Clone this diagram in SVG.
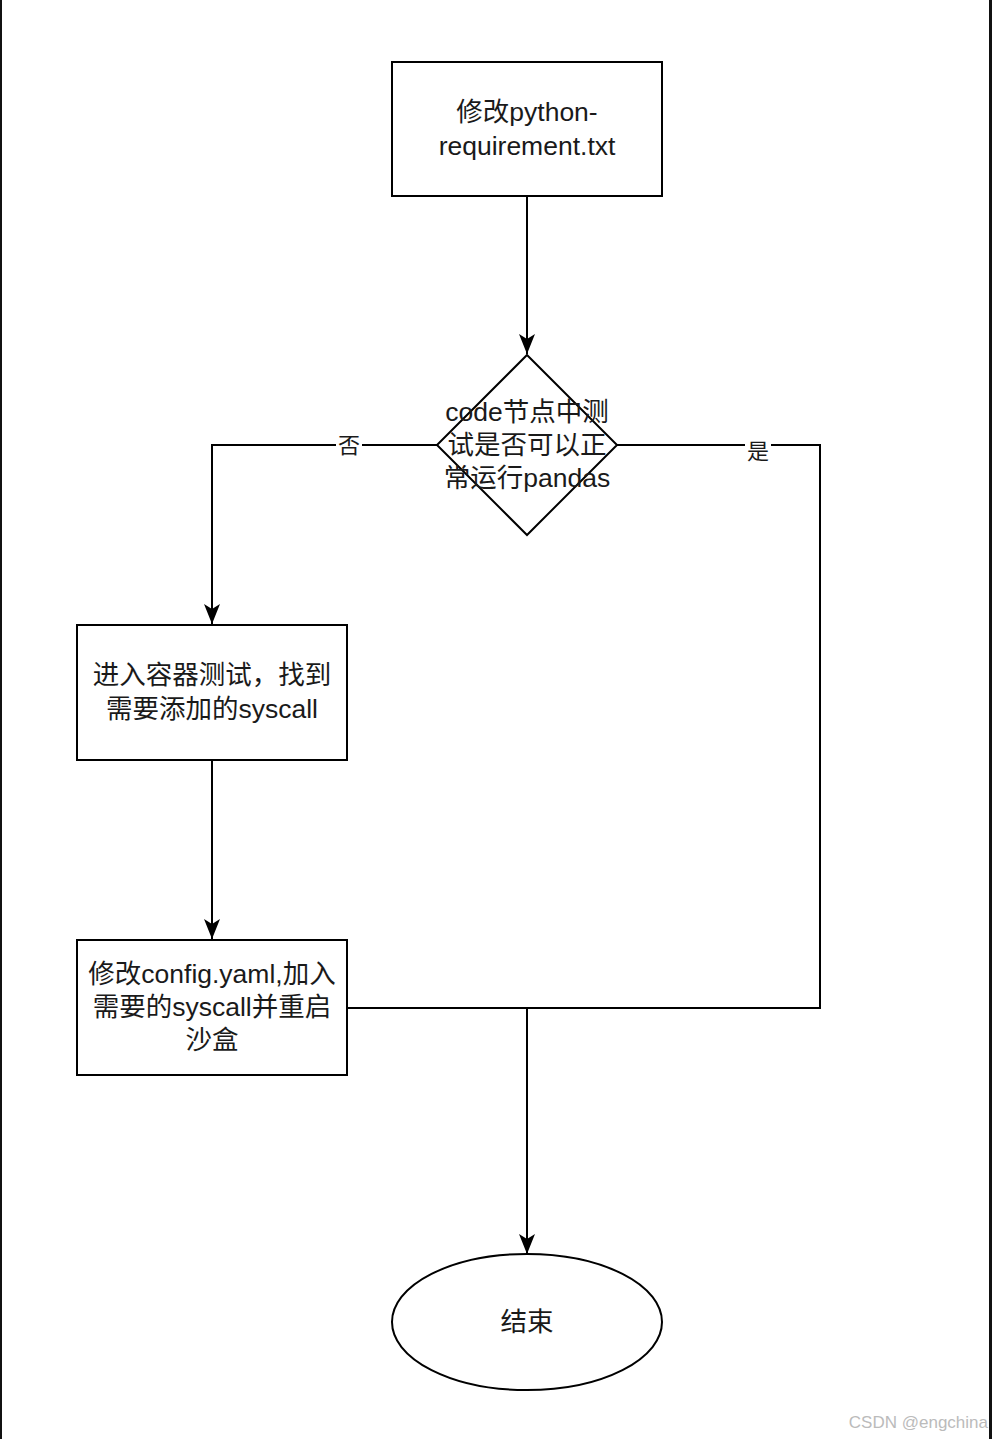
<svg xmlns="http://www.w3.org/2000/svg" width="992" height="1439" viewBox="0 0 992 1439">
<style>
.n{fill:#fff;stroke:#000;stroke-width:2}
.t{font-family:"Liberation Sans","Noto Sans CJK SC",sans-serif;font-size:26.5px;fill:#1a1a1a;text-anchor:middle}
.e{fill:none;stroke:#000;stroke-width:2}
.l{font-family:"Liberation Sans","Noto Sans CJK SC",sans-serif;font-size:22px;fill:#1a1a1a;text-anchor:middle}
</style>
<defs>
<marker id="a" viewBox="0 0 20 20" refX="20" refY="10" markerWidth="20" markerHeight="20" markerUnits="userSpaceOnUse" orient="auto">
<path d="M0,2 L20,10 L0,18 L5,10 Z" fill="#000"/>
</marker>
</defs>
<rect width="992" height="1439" fill="#fff"/>
<line x1="1" y1="0" x2="1" y2="1439" stroke="#111" stroke-width="2"/>
<line x1="990.5" y1="0" x2="990.5" y2="1439" stroke="#111" stroke-width="3"/>
<g id="connectors">
<path class="e" d="M527,197 V354" marker-end="url(#a)"/>
<path class="e" d="M437,445 H212 V624" marker-end="url(#a)"/>
<path class="e" d="M617,445 H820 V1008 H527"/>
<path class="e" d="M212,761 V939" marker-end="url(#a)"/>
<path class="e" d="M347,1008 H527 V1254" marker-end="url(#a)"/>
<rect x="336" y="432" width="26" height="26" fill="#fff"/>
<text class="l" x="349" y="453">否</text>
<rect x="745" y="438" width="26" height="26" fill="#fff"/>
<text class="l" x="758" y="459">是</text>
</g>
<g id="start">
<rect class="n" x="392" y="62" width="270" height="134"/>
<text class="t" x="527" y="121">修改python-</text>
<text class="t" x="527" y="155">requirement.txt</text>
</g>
<g id="decision">
<path class="n" d="M527,355 L617,445 L527,535 L437,445 Z"/>
<text class="t" x="527" y="421">code节点中测</text>
<text class="t" x="527" y="454">试是否可以正</text>
<text class="t" x="527" y="487">常运行pandas</text>
</g>
<g id="find">
<rect class="n" x="77" y="625" width="270" height="135"/>
<text class="t" x="212" y="684">进入容器测试，找到</text>
<text class="t" x="212" y="718">需要添加的syscall</text>
</g>
<g id="modify">
<rect class="n" x="77" y="940" width="270" height="135"/>
<text class="t" x="212" y="983">修改config.yaml,加入</text>
<text class="t" x="212" y="1016">需要的syscall并重启</text>
<text class="t" x="212" y="1049">沙盒</text>
</g>
<g id="end">
<ellipse class="n" cx="527" cy="1322" rx="135" ry="68"/>
<text class="t" x="527" y="1331">结束</text>
</g>
<text x="988" y="1428" font-family="Liberation Sans,sans-serif" font-size="17" fill="#bbb" text-anchor="end">CSDN @engchina</text>
</svg>
